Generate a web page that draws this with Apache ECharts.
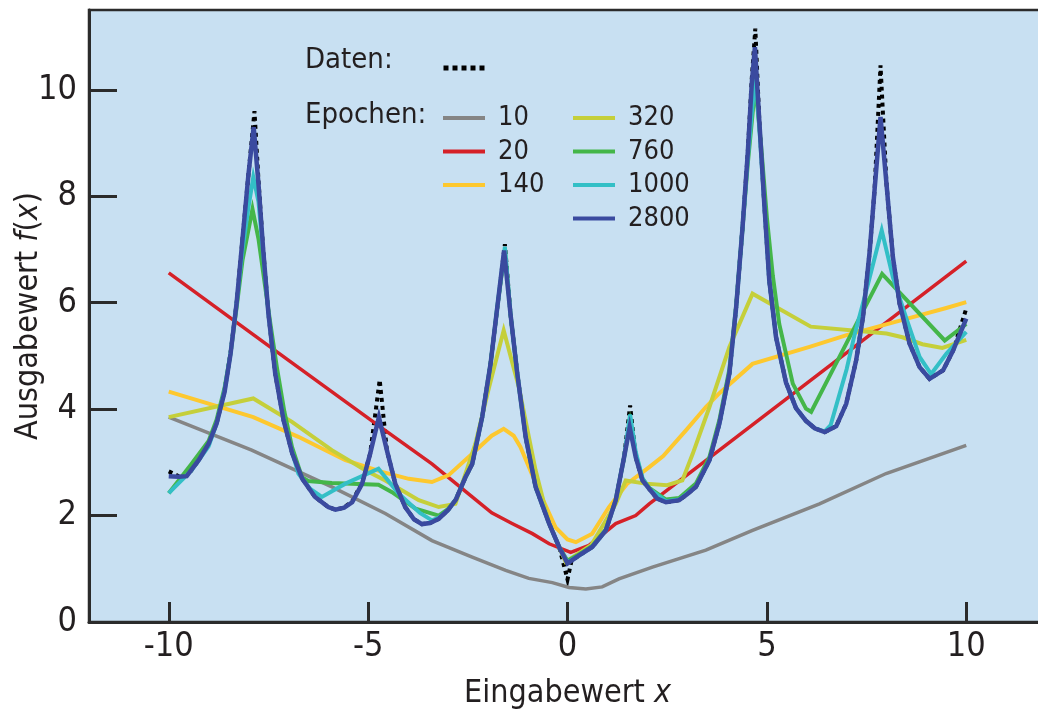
<!DOCTYPE html>
<html>
<head>
<meta charset="utf-8">
<script src="https://cdn.jsdelivr.net/npm/echarts@6/dist/echarts.min.js"></script>
<style>
  html, body { margin: 0; padding: 0; background: #ffffff; }
  #chart { width: 1038px; height: 711px; }
</style>
</head>
<body>
<div id="chart"></div>
<script>
// Target function samples (Daten) and network outputs after n epochs, as [x, f(x)] pairs
const daten = [
  [-10, 2.83], [-9.75, 2.74], [-9.5, 2.78], [-9.25, 3.04], [-9.0, 3.36], [-8.8, 3.73], [-8.6, 4.35],
  [-8.45, 5.05], [-8.3, 5.98], [-8.15, 7.2], [-8.0, 8.42], [-7.85, 9.6], [-7.75, 8.3], [-7.63, 6.98],
  [-7.5, 5.79], [-7.33, 4.67], [-7.12, 3.79], [-6.9, 3.16], [-6.65, 2.69], [-6.33, 2.35], [-6.0, 2.16],
  [-5.82, 2.11], [-5.6, 2.15], [-5.4, 2.27], [-5.15, 2.62], [-4.95, 3.16], [-4.71, 4.55], [-4.53, 3.23],
  [-4.32, 2.6], [-4.07, 2.16], [-3.85, 1.93], [-3.65, 1.84], [-3.45, 1.86], [-3.23, 1.94], [-3.0, 2.1],
  [-2.8, 2.3], [-2.56, 2.72], [-2.39, 2.97], [-2.14, 3.85], [-1.93, 4.85], [-1.76, 5.92], [-1.57, 7.1],
  [-1.43, 5.79], [-1.26, 4.67], [-1.05, 3.48], [-0.8, 2.54], [-0.46, 1.85], [-0.21, 1.41], [0, 0.8],
  [0.1, 1.15], [0.29, 1.25], [0.62, 1.41], [0.96, 1.72], [1.21, 2.29], [1.42, 3.1], [1.57, 4.07],
  [1.71, 3.1], [1.88, 2.66], [2.05, 2.5], [2.25, 2.32], [2.47, 2.25], [2.8, 2.29], [3.0, 2.4],
  [3.22, 2.54], [3.56, 3.04], [3.81, 3.73], [4.06, 4.67], [4.23, 5.92], [4.39, 7.42], [4.52, 8.8],
  [4.62, 10.2], [4.71, 11.15], [4.81, 9.42], [4.94, 7.8], [5.06, 6.42], [5.23, 5.35], [5.48, 4.5],
  [5.73, 4.02], [5.98, 3.78], [6.2, 3.64], [6.45, 3.57], [6.74, 3.68], [6.99, 4.1], [7.24, 4.92],
  [7.41, 5.73], [7.58, 6.98], [7.7, 8.11], [7.85, 10.46], [8.0, 8.23], [8.16, 6.86], [8.33, 5.98],
  [8.58, 5.23], [8.83, 4.79], [9.08, 4.57], [9.42, 4.73], [9.67, 5.1], [10, 5.89]
];

const epoch10 = [
  [-10, 3.85], [-7.92, 3.23], [-5.91, 2.54], [-4.57, 2.04], [-3.4, 1.53], [-2.39, 1.22], [-1.55, 0.97],
  [-0.97, 0.82], [-0.38, 0.74], [0.04, 0.65], [0.46, 0.62], [0.87, 0.66], [1.29, 0.81], [2.13, 1.03],
  [3.47, 1.35], [4.64, 1.72], [6.32, 2.22], [7.99, 2.79], [10, 3.32]
];

const epoch20 = [
  [-10, 6.56], [-7.33, 5.1], [-4.74, 3.69], [-3.4, 2.97], [-2.39, 2.35], [-1.9, 2.05], [-1.39, 1.85],
  [-0.88, 1.66], [-0.46, 1.47], [0.08, 1.31], [0.54, 1.44], [1.21, 1.85], [1.71, 2.0], [2.05, 2.22],
  [3.81, 3.23], [7.07, 5.1], [10, 6.78]
];

const epoch140 = [
  [-10, 4.33], [-7.88, 3.85], [-6.75, 3.48], [-5.57, 3.04], [-4.65, 2.82], [-3.98, 2.69], [-3.4, 2.63],
  [-2.98, 2.76], [-2.39, 3.16], [-1.9, 3.5], [-1.6, 3.63], [-1.35, 3.5], [-1.18, 3.29], [-0.72, 2.47],
  [-0.3, 1.78], [0, 1.55], [0.21, 1.5], [0.62, 1.66], [1.04, 2.16], [1.5, 2.6], [2.05, 2.91],
  [2.4, 3.12], [2.97, 3.6], [3.47, 4.04], [3.81, 4.3], [4.64, 4.85], [6.07, 5.17], [7.0, 5.39],
  [8.66, 5.73], [9.5, 5.9], [10, 6.01]
];

const epoch320 = [
  [-10, 3.85], [-7.88, 4.2], [-6.91, 3.76], [-5.91, 3.23], [-5.07, 2.85], [-4.57, 2.66], [-3.73, 2.29],
  [-3.23, 2.16], [-2.81, 2.22], [-2.64, 2.6], [-2.31, 3.35], [-1.97, 4.4], [-1.6, 5.48], [-1.22, 4.41],
  [-0.8, 2.85], [-0.46, 1.85], [-0.05, 1.13], [0.6, 1.45], [1.21, 2.22], [1.46, 2.66], [1.96, 2.6],
  [2.5, 2.57], [2.88, 2.66], [3.14, 3.16], [3.56, 4.04], [4.06, 5.17], [4.64, 6.17], [6.1, 5.55],
  [8.0, 5.42], [8.4, 5.35], [8.9, 5.22], [9.4, 5.15], [10, 5.3]
];

const epoch760 = [
  [-10, 2.42], [-9.45, 2.95], [-9.0, 3.4], [-8.8, 3.8], [-8.6, 4.4], [-8.45, 5.05], [-8.3, 5.9],
  [-8.15, 6.8], [-7.9, 7.76], [-7.75, 7.2], [-7.6, 6.4], [-7.45, 5.6], [-7.29, 4.79], [-7.1, 3.95],
  [-6.91, 3.29], [-6.66, 2.72], [-6.5, 2.65], [-5.91, 2.61], [-4.74, 2.58], [-4.4, 2.44], [-3.81, 2.13],
  [-3.23, 2.0], [-3.0, 2.12], [-2.8, 2.3], [-2.56, 2.72], [-2.39, 2.97], [-2.14, 3.85], [-1.93, 4.85],
  [-1.76, 5.92], [-1.57, 7.0], [-1.43, 5.79], [-1.26, 4.67], [-1.05, 3.48], [-0.8, 2.54], [-0.46, 1.85],
  [-0.21, 1.41], [0, 1.15], [0.29, 1.27], [0.62, 1.43], [0.96, 1.74], [1.21, 2.3], [1.42, 3.1],
  [1.57, 3.75], [1.71, 3.15], [1.88, 2.7], [2.05, 2.52], [2.47, 2.3], [2.8, 2.33], [3.22, 2.6],
  [3.56, 3.1], [3.81, 3.8], [4.06, 4.75], [4.23, 5.95], [4.39, 7.4], [4.52, 8.6], [4.71, 10.1],
  [4.85, 9.0], [5.0, 7.6], [5.15, 6.5], [5.31, 5.6], [5.65, 4.48], [5.98, 4.01], [6.11, 3.95],
  [7.89, 6.54], [9.46, 5.29], [10, 5.6]
];

const epoch1000 = [
  [-10, 2.42], [-9.43, 2.85], [-9.0, 3.3], [-8.8, 3.73], [-8.6, 4.35], [-8.45, 5.05], [-8.3, 5.98],
  [-8.15, 7.0], [-8.0, 7.8], [-7.88, 8.36], [-7.75, 7.9], [-7.63, 6.9], [-7.5, 5.8], [-7.33, 4.7],
  [-7.12, 3.8], [-6.9, 3.18], [-6.75, 2.79], [-6.45, 2.5], [-6.16, 2.35], [-5.57, 2.6], [-4.74, 2.88],
  [-4.23, 2.41], [-3.7, 2.05], [-3.4, 1.91], [-3.23, 1.96], [-3.0, 2.1], [-2.8, 2.3], [-2.56, 2.72],
  [-2.39, 2.97], [-2.14, 3.85], [-1.93, 4.85], [-1.76, 5.92], [-1.57, 7.05], [-1.43, 5.79], [-1.26, 4.67],
  [-1.05, 3.48], [-0.8, 2.54], [-0.46, 1.85], [-0.21, 1.41], [0, 1.12], [0.29, 1.25], [0.62, 1.41],
  [0.96, 1.72], [1.21, 2.29], [1.42, 3.1], [1.57, 3.9], [1.71, 3.2], [1.88, 2.7], [2.05, 2.5],
  [2.47, 2.27], [2.8, 2.3], [3.22, 2.54], [3.56, 3.04], [3.81, 3.73], [4.06, 4.67], [4.23, 5.92],
  [4.39, 7.42], [4.52, 8.7], [4.71, 10.3], [4.81, 9.3], [4.94, 7.8], [5.06, 6.42], [5.23, 5.35],
  [5.48, 4.5], [5.73, 4.02], [5.98, 3.78], [6.2, 3.64], [6.45, 3.58], [6.6, 3.7], [7.0, 4.75],
  [7.2, 5.4], [7.45, 6.1], [7.88, 7.36], [8.16, 6.48], [8.5, 5.7], [8.83, 4.98], [9.12, 4.66],
  [9.5, 5.04], [10, 5.45]
];

const epoch2800 = [
  [-10, 2.74], [-9.75, 2.73], [-9.55, 2.74], [-9.25, 3.04], [-9.0, 3.35], [-8.8, 3.73], [-8.6, 4.32],
  [-8.45, 5.04], [-8.3, 5.98], [-8.15, 7.2], [-8.0, 8.42], [-7.87, 9.3], [-7.75, 8.23], [-7.63, 6.98],
  [-7.5, 5.79], [-7.33, 4.67], [-7.12, 3.79], [-6.9, 3.16], [-6.65, 2.69], [-6.33, 2.35], [-6.0, 2.16],
  [-5.82, 2.11], [-5.6, 2.15], [-5.4, 2.25], [-5.15, 2.6], [-4.95, 3.16], [-4.73, 3.85], [-4.53, 3.23],
  [-4.32, 2.6], [-4.07, 2.16], [-3.85, 1.93], [-3.65, 1.84], [-3.45, 1.86], [-3.23, 1.94], [-3.0, 2.1],
  [-2.8, 2.3], [-2.56, 2.72], [-2.39, 2.97], [-2.14, 3.85], [-1.93, 4.85], [-1.76, 5.92], [-1.59, 6.98],
  [-1.43, 5.79], [-1.26, 4.67], [-1.05, 3.48], [-0.8, 2.54], [-0.46, 1.85], [-0.21, 1.41], [0, 1.1],
  [0.29, 1.25], [0.62, 1.41], [0.96, 1.72], [1.21, 2.29], [1.42, 3.1], [1.56, 3.66], [1.71, 3.1],
  [1.88, 2.66], [2.05, 2.5], [2.25, 2.32], [2.47, 2.25], [2.8, 2.29], [3.0, 2.4], [3.22, 2.54],
  [3.56, 3.04], [3.81, 3.73], [4.06, 4.67], [4.23, 5.92], [4.39, 7.42], [4.52, 8.8], [4.62, 10.1],
  [4.7, 10.8], [4.81, 9.42], [4.94, 7.8], [5.06, 6.42], [5.23, 5.35], [5.48, 4.5], [5.73, 4.02],
  [5.98, 3.78], [6.2, 3.64], [6.45, 3.57], [6.74, 3.68], [6.99, 4.1], [7.24, 4.92], [7.41, 5.73],
  [7.58, 6.98], [7.7, 8.11], [7.85, 9.49], [8.0, 8.23], [8.16, 6.86], [8.33, 5.98], [8.58, 5.23],
  [8.83, 4.79], [9.08, 4.57], [9.42, 4.73], [9.67, 5.1], [10, 5.7]
];

const epochNames = ['10', '20', '140', '320', '760', '1000', '2800'];
const epochData = [epoch10, epoch20, epoch140, epoch320, epoch760, epoch1000, epoch2800];
const epochColors = ['#858585', '#d52128', '#fdc82f', '#c5cf3a', '#44b649', '#33bfc6', '#3a4a9f'];
const epochWidths = [3.5, 3.5, 4, 4, 4, 4, 4.5];

const xTicks = [-10, -5, 0, 5, 10];
const yTicks = [0, 2, 4, 6, 8, 10];

const FONT = '"DejaVu Sans Condensed", "Liberation Sans Narrow", "Liberation Sans", sans-serif';
const INK = '#231f20';
const AXIS = '#2b2b2b';

const chart = echarts.init(document.getElementById('chart'), null, { renderer: 'canvas' });

const series = [{
  name: 'Daten',
  type: 'line',
  data: daten,
  showSymbol: false,
  symbol: 'none',
  silent: true,
  z: 1,
  color: '#000000',
  lineStyle: { color: '#000000', width: 4, type: [4, 4], join: 'miter', miterLimit: 6 }
}];
epochNames.forEach((name, i) => {
  series.push({
    name: name,
    type: 'line',
    data: epochData[i],
    showSymbol: false,
    symbol: 'none',
    silent: true,
    z: 2 + i,
    color: epochColors[i],
    lineStyle: { color: epochColors[i], width: epochWidths[i], join: 'miter', miterLimit: 6 }
  });
});

const legendText = {
  color: INK,
  fontFamily: FONT,
  fontSize: 27,
  lineHeight: 33.5,
  padding: [0, 0, 0, 8]
};

chart.setOption({
  animation: false,
  textStyle: { fontFamily: FONT },
  grid: {
    left: 89,
    right: -8,
    top: 10,
    bottom: 89,
    outerBoundsMode: 'none',
    containLabel: false,
    show: true,
    backgroundColor: '#c8e0f2',
    borderColor: AXIS,
    borderWidth: 2.5
  },
  xAxis: {
    type: 'value',
    min: -12,
    max: 12,
    name: 'Eingabewert {i|x}',
    nameLocation: 'middle',
    nameGap: 56,
    nameMoveOverlap: false,
    nameTextStyle: {
      color: INK, fontFamily: FONT, fontSize: 32,
      rich: { i: { fontStyle: 'italic', color: INK, fontFamily: FONT, fontSize: 32 } }
    },
    axisLine: { show: true, onZero: false, lineStyle: { color: AXIS, width: 3 } },
    axisTick: { show: true, inside: true, length: 20, customValues: xTicks, lineStyle: { color: AXIS, width: 3 } },
    axisLabel: { customValues: xTicks, margin: 8, color: INK, fontFamily: FONT, fontSize: 34 },
    splitLine: { show: false }
  },
  yAxis: {
    type: 'value',
    min: 0,
    max: 11.5,
    name: 'Ausgabewert {i|f}({i|x})',
    nameLocation: 'middle',
    nameGap: 44,
    nameMoveOverlap: false,
    nameRotate: 90,
    nameTextStyle: {
      color: INK, fontFamily: FONT, fontSize: 32,
      rich: { i: { fontStyle: 'italic', color: INK, fontFamily: FONT, fontSize: 32 } }
    },
    axisLine: { show: true, onZero: false, lineStyle: { color: AXIS, width: 3 } },
    axisTick: { show: true, inside: true, length: 28, customValues: yTicks, lineStyle: { color: AXIS, width: 3 } },
    axisLabel: { customValues: yTicks, margin: 12, color: INK, fontFamily: FONT, fontSize: 34 },
    splitLine: { show: false }
  },
  legend: [
    {
      data: [{ name: 'Daten', icon: 'path://M0,0h5v5h-5zM9,0h5v5h-5zM18,0h5v5h-5zM27,0h5v5h-5zM36,0h5v5h-5z' }],
      left: 443, top: 65.5, padding: 0,
      itemWidth: 42, itemHeight: 5,
      formatter: () => '',
      selectedMode: false,
      itemStyle: { color: '#000000' },
      textStyle: { fontSize: 1 }
    },
    {
      data: epochNames.slice(0, 3).map(n => ({ name: n, icon: 'rect' })),
      orient: 'vertical', left: 443, top: 101.25, padding: 0,
      itemWidth: 42, itemHeight: 4, itemGap: 0,
      selectedMode: false,
      textStyle: legendText
    },
    {
      data: epochNames.slice(3).map(n => ({ name: n, icon: 'rect' })),
      orient: 'vertical', left: 573, top: 101.25, padding: 0,
      itemWidth: 42, itemHeight: 4, itemGap: 0,
      selectedMode: false,
      textStyle: legendText
    }
  ],
  graphic: [
    { type: 'text', left: 305, top: 46, z: 100,
      style: { text: 'Daten:', fill: INK, font: '29px ' + FONT } },
    { type: 'text', left: 305, top: 101, z: 100,
      style: { text: 'Epochen:', fill: INK, font: '29px ' + FONT } }
  ],
  series: series
});
</script>
</body>
</html>
